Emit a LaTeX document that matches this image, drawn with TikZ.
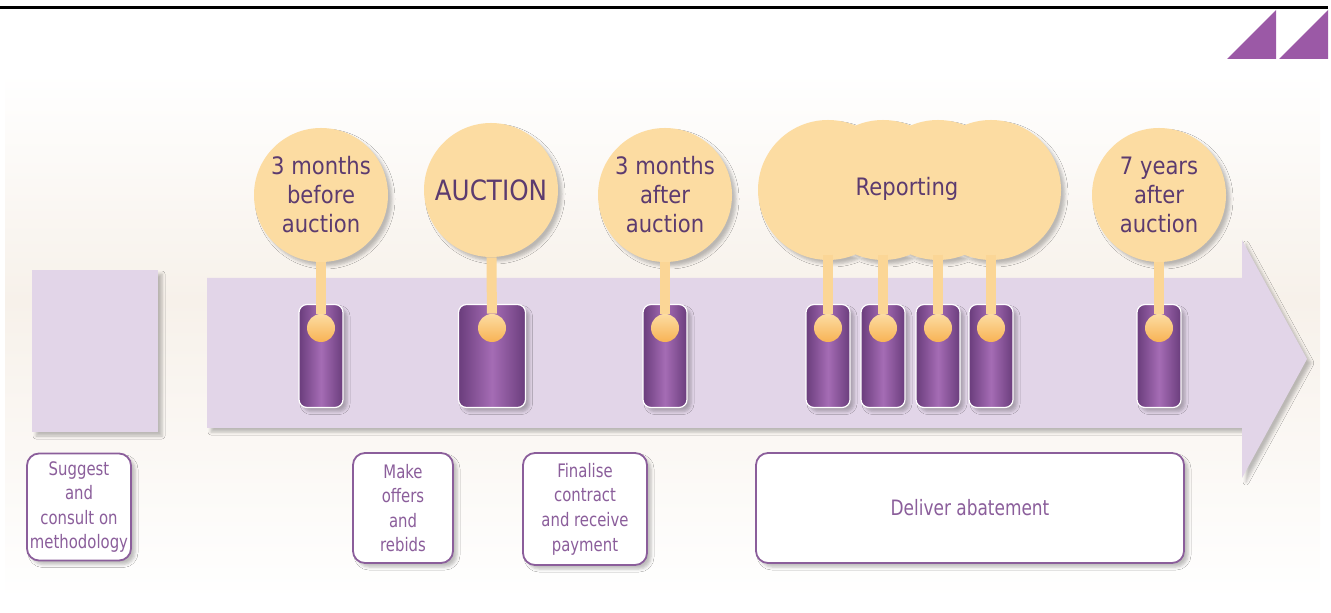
\documentclass[tikz,border=0pt]{standalone}
\usepackage{fontspec}
\setmainfont{DejaVu Sans}[FakeStretch=0.88]
\newfontfamily\narrowfont{DejaVu Sans}[FakeStretch=0.8]
\usetikzlibrary{shadows.blur}

\definecolor{lavender}{HTML}{E2D5E8}
\definecolor{peach}{HTML}{FCDCA2}
\definecolor{plum}{HTML}{5C3B6F}
\definecolor{mauve}{HTML}{8B5E9B}
\definecolor{tabdark}{HTML}{6A3D7C}
\definecolor{tablight}{HTML}{A56CB5}
\definecolor{dotorange}{HTML}{F8B355}
\definecolor{cream}{HTML}{F7F1EA}
\definecolor{flag}{HTML}{9B59A6}

\tikzset{
  soft/.style={blur shadow={shadow xshift=2pt, shadow yshift=-2pt, shadow blur radius=1.5pt, shadow opacity=25}},
  milestone/.style={circle, fill=peach, minimum size=67pt, inner sep=0pt, align=center, text=plum, font=\fontsize{12}{14.5}\selectfont, soft},
  tab/.style={rectangle, rounded corners=4pt, draw=white, line width=0.6pt, left color=tabdark, right color=tabdark, middle color=tablight, minimum width=22pt, minimum height=51.5pt, inner sep=0pt, soft},
  dot/.style={circle, inner sep=0pt, minimum size=14pt, top color=peach, bottom color=dotorange},
  stem/.style={draw=peach!85!dotorange, line width=5pt},
  task/.style={rectangle, rounded corners=6pt, draw=mauve, line width=0.9pt, fill=white, text=mauve, align=center, inner sep=0pt, font=\narrowfont\fontsize{9.3}{12.3}\selectfont, soft}
}

\begin{document}
\begin{tikzpicture}[x=0.5pt, y=-0.5pt]
\useasboundingbox (0,0) rectangle (1331,613);

% rule and corner mark
\draw[line width=1.5pt] (0,8) -- (1328,8);
\fill[flag] (1227,59) -- (1276,10) -- (1276,59) -- cycle;
\fill[flag] (1279,59) -- (1328,10) -- (1328,59) -- cycle;

% panel
\shade[top color=white, bottom color=cream] (5,73) rectangle (1320,300);
\shade[top color=cream, bottom color=white] (5,300) rectangle (1320,600);

% time line
\fill[lavender, soft] (32,270) rectangle (158,432);
\fill[lavender, soft] (207,278) -- (1242,278) -- (1242,240) -- (1307,359)
  -- (1242,478) -- (1242,428) -- (207,428) -- cycle;

% tabs
\node[tab] (t1) at (321,356) {};
\node[tab, minimum width=33.5pt] (t2) at (492,356) {};
\node[tab] (t3) at (665,356) {};
\node[tab] (t4) at (828,356) {};
\node[tab] (t5) at (883,356) {};
\node[tab] (t6) at (938,356) {};
\node[tab] (t7) at (991,356) {};
\node[tab] (t8) at (1159,356) {};

% milestones
\node[milestone] (m1) at (321,195) {3 months\\before\\auction};
\node[milestone, font=\fontsize{14}{16}\selectfont] (m2) at (491,190) {AUCTION};
\node[milestone] (m3) at (665,195) {3 months\\after\\auction};
\node[milestone] (m5) at (1159,195) {7 years\\after\\auction};

% reporting cloud
\fill[peach, soft] (828,190) circle (35pt) (883,190) circle (35pt)
  (938,190) circle (35pt) (991,190) circle (35pt);
\node[text=plum, font=\fontsize{12}{14.5}\selectfont] (m4) at (907,189) {Reporting};
\coordinate (r1) at (828,255);
\coordinate (r2) at (883,255);
\coordinate (r3) at (938,255);
\coordinate (r4) at (991,255);

% dots
\node[dot] (d1) at (321,328) {};
\node[dot] (d2) at (492,328) {};
\node[dot] (d3) at (665,328) {};
\node[dot] (d4) at (828,328) {};
\node[dot] (d5) at (883,328) {};
\node[dot] (d6) at (938,328) {};
\node[dot] (d7) at (991,328) {};
\node[dot] (d8) at (1159,328) {};

\draw[stem] (m1) -- (d1);
\draw[stem] (m2) -- (d2);
\draw[stem] (m3) -- (d3);
\draw[stem] (r1) -- (d4);
\draw[stem] (r2) -- (d5);
\draw[stem] (r3) -- (d6);
\draw[stem] (r4) -- (d7);
\draw[stem] (m5) -- (d8);

% tasks
\node[task, minimum width=52pt, minimum height=53.5pt] (a1) at (79,507) {Suggest\\and\\consult on\\methodology};
\node[task, minimum width=50pt, minimum height=55pt] (a2) at (403,508) {Make\\offers\\and\\rebids};
\node[task, minimum width=62pt, minimum height=56pt] (a3) at (585,509) {Finalise\\contract\\and receive\\payment};
\node[task, minimum width=214pt, minimum height=55pt, font=\narrowfont\fontsize{10.6}{12.3}\selectfont] (a4) at (970,508) {Deliver abatement};
\end{tikzpicture}
\end{document}
